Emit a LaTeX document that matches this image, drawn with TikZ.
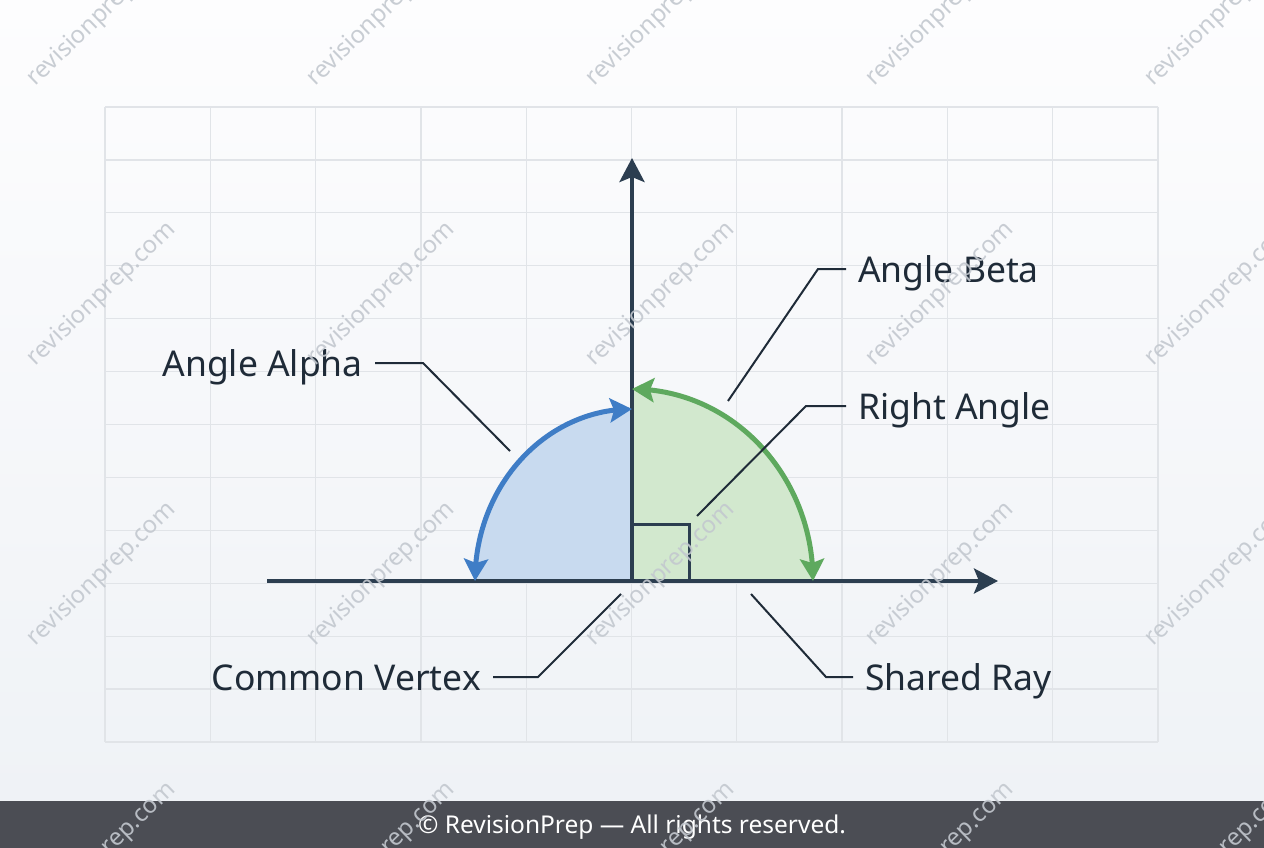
\documentclass[tikz,border=0pt]{standalone}
\usepackage{fontspec}
\setmainfont{Noto Sans}
\usetikzlibrary{arrows.meta,bending}

\definecolor{ink}{HTML}{2C3E50}
\definecolor{textink}{HTML}{1F2B38}
\definecolor{alphablue}{HTML}{3F7DC6}
\definecolor{alphafill}{HTML}{C8DAEF}
\definecolor{betagreen}{HTML}{5EA95E}
\definecolor{betafill}{HTML}{D2E8CE}
\definecolor{gridgray}{HTML}{E1E4E8}
\definecolor{markgray}{HTML}{C3C8CF}
\definecolor{footgray}{HTML}{4B4D54}
\definecolor{bgtop}{HTML}{FDFDFE}
\definecolor{bgbottom}{HTML}{EFF2F6}

\begin{document}
\begin{tikzpicture}[x=1pt,y=-1pt]
\tikzstyle{gridline}=[gridgray, line width=1.3pt]
\tikzstyle{axisline}=[ink, line width=4pt, -{Stealth[length=24pt,width=25pt,inset=5pt]}]
\tikzstyle{arcline}=
[
	line width=5pt,
	{Stealth[length=22pt,width=24pt,inset=4pt]}-{Stealth[length=22pt,width=24pt,inset=4pt]}
]
\tikzstyle{annot}=
[
	textink, font=\fontsize{35.5}{40}\selectfont,
	inner xsep=12pt, inner ysep=0pt, text height=26pt, text depth=0pt
]
\tikzstyle{leader}=[textink, line width=2pt]
\tikzstyle{watermark}=
[
	markgray, opacity=0.9, font=\fontsize{24}{26}\selectfont,
	rotate=44, anchor=base, inner sep=0pt
]

\useasboundingbox (0,0) rectangle (1264,848);
\shade[top color=bgtop, bottom color=bgbottom] (0,0) rectangle (1264,801);

% grid
\foreach \i in {0,...,10}
	\draw[gridline] (105+105.3*\i,107) -- (105+105.3*\i,742);
\foreach \j in {0,...,12}
	\draw[gridline] (105,107+52.92*\j) -- (1158,107+52.92*\j);

\coordinate (O) at (632,581);
\coordinate (xstart) at (267,581);
\coordinate (xend) at (998,581);
\coordinate (yend) at (632,158);

% angle sectors
\fill[alphafill] (O) -- ++(-157,0)
	arc[start angle=180, end angle=270, x radius=157, y radius=172] -- cycle;
\fill[betafill] (O) -- ++(0,-192)
	arc[start angle=270, end angle=360, x radius=181, y radius=192] -- cycle;

\draw[axisline] (xstart) -- (xend);
\draw[axisline] (O) -- (yend);
\draw[ink, line width=3pt] (O) ++(0,-57) -| ++(57,57);

\draw[arcline, alphablue] (O) ++(-157,0)
	arc[start angle=180, end angle=270, x radius=157, y radius=172];
\draw[arcline, betagreen] (O) ++(0,-192)
	arc[start angle=270, end angle=360, x radius=181, y radius=192];

% labels
\node[annot, anchor=east] (alpha) at (375,363) {Angle Alpha};
\node[annot, anchor=west] (beta) at (846,269) {Angle Beta};
\node[annot, anchor=west] (right) at (846,406) {Right Angle};
\node[annot, anchor=east] (vertex) at (493,677) {Common Vertex};
\node[annot, anchor=west] (ray) at (853,677) {Shared Ray};

\coordinate (alphapt) at (510,451);
\coordinate (betapt) at (728,401);
\coordinate (rightpt) at (697,516);
\coordinate (vertexpt) at (621,594);
\coordinate (raypt) at (751,594);

\draw[leader] (alpha.east) -- ++(48,0) -- (alphapt);
\draw[leader] (beta.west) -- ++(-28,0) -- (betapt);
\draw[leader] (right.west) -- ++(-40,0) -- (rightpt);
\draw[leader] (vertex.east) -- ++(45,0) -- (vertexpt);
\draw[leader] (ray.west) -- ++(-27,0) -- (raypt);

% footer
\fill[footgray] (0,801) rectangle (1264,848);
\node[white, font=\fontsize{24.5}{28}\selectfont, inner sep=0pt, text height=17pt, text depth=0pt]
	(copyright) at (632,825) {© RevisionPrep — All rights reserved.};

% watermarks
\foreach \c in {0,...,4}
	\foreach \r in {0,...,3}
		\node[watermark] at (106+279.5*\c,19+280*\r) {revisionprep.com};
\end{tikzpicture}
\end{document}
